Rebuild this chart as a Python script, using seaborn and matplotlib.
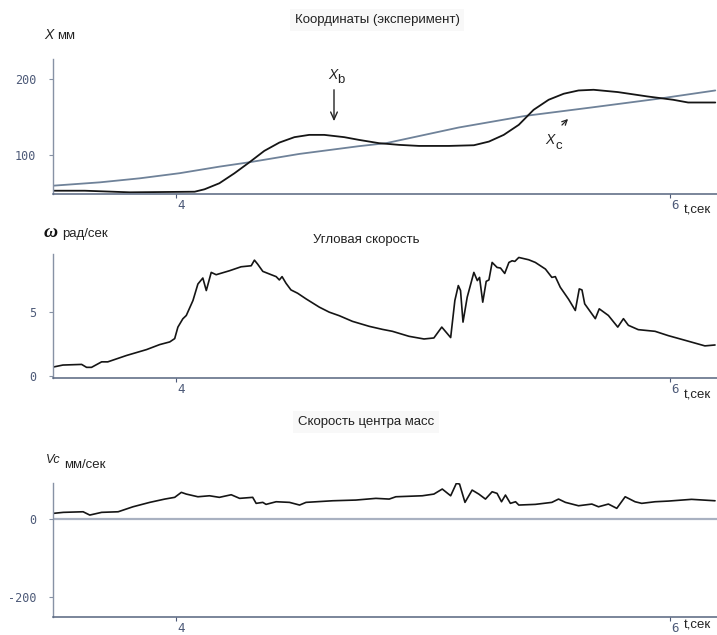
import numpy as np
import pandas as pd
import matplotlib
matplotlib.use("Agg")
import matplotlib.pyplot as plt
from matplotlib.transforms import ScaledTranslation
import seaborn as sns

# ---- data -------------------------------------------------------------
# Coordinates, mm
t_xc = [3.500, 3.690, 3.852, 4.013, 4.174, 4.296, 4.498, 4.740, 4.849,
        5.144, 5.415, 5.682, 5.952, 6.183]
x_c = [59.6, 64.0, 69.3, 76.0, 84.6, 90.4, 101.3, 111.5, 115.4,
       136.0, 151.3, 162.3, 173.7, 184.6]

t_xb = [3.500, 3.629, 3.811, 4.074, 4.114, 4.174, 4.235, 4.296, 4.356,
        4.417, 4.478, 4.538, 4.599, 4.680, 4.740, 4.821, 4.902, 4.983,
        5.104, 5.205, 5.266, 5.326, 5.387, 5.447, 5.508, 5.569, 5.629,
        5.690, 5.788, 5.909, 6.012, 6.073, 6.183]
x_b = [53.0, 53.0, 50.9, 51.7, 54.9, 62.8, 75.9, 90.4, 105.3,
       116.2, 123.3, 126.3, 126.3, 123.3, 119.7, 115.4, 113.2, 111.8,
       111.8, 112.7, 117.5, 126.3, 139.5, 159.2, 172.4, 180.3, 184.6,
       185.5, 182.5, 176.7, 172.4, 168.8, 168.8]

# Angular velocity, rad/s
t_w = [3.500, 3.540, 3.616, 3.636, 3.656, 3.697, 3.722, 3.798, 3.879,
       3.932, 3.973, 3.993, 4.006, 4.026, 4.040, 4.067, 4.087, 4.107,
       4.121, 4.141, 4.161, 4.215, 4.262, 4.303, 4.316, 4.329, 4.350,
       4.384, 4.404, 4.417, 4.428, 4.444, 4.464, 4.491, 4.525, 4.579,
       4.619, 4.660, 4.713, 4.781, 4.835, 4.875, 4.942, 5.003, 5.043,
       5.075, 5.111, 5.128, 5.142, 5.151, 5.161, 5.178, 5.205, 5.219,
       5.228, 5.241, 5.255, 5.266, 5.279, 5.299, 5.313, 5.330, 5.347,
       5.360, 5.371, 5.387, 5.427, 5.454, 5.495, 5.521, 5.535, 5.555,
       5.589, 5.616, 5.632, 5.643, 5.654, 5.697, 5.713, 5.750, 5.788,
       5.811, 5.831, 5.871, 5.939, 5.993, 6.060, 6.141, 6.182]
omega = [0.70, 0.86, 0.91, 0.68, 0.68, 1.11, 1.11, 1.61, 2.07,
         2.46, 2.67, 2.93, 3.83, 4.48, 4.74, 5.91, 7.20, 7.67,
         6.69, 8.11, 7.93, 8.24, 8.55, 8.63, 9.07, 8.76, 8.19,
         7.93, 7.78, 7.52, 7.78, 7.26, 6.74, 6.48, 6.04, 5.39,
         5.00, 4.72, 4.28, 3.89, 3.65, 3.50, 3.11, 2.90, 2.98,
         3.83, 3.01, 5.91, 7.08, 6.69, 4.22, 6.17, 8.11, 7.47,
         7.72, 5.78, 7.41, 7.52, 8.89, 8.50, 8.45, 8.03, 8.89,
         9.02, 8.97, 9.28, 9.10, 8.89, 8.37, 7.72, 7.78, 6.95,
         6.00, 5.13, 6.82, 6.74, 5.65, 4.49, 5.26, 4.74, 3.83,
         4.49, 3.97, 3.63, 3.50, 3.16, 2.80, 2.36, 2.43]

# Centre-of-mass velocity, mm/s
t_v = [3.501, 3.542, 3.622, 3.649, 3.697, 3.764, 3.824, 3.892, 3.953,
       3.993, 4.020, 4.040, 4.087, 4.134, 4.174, 4.222, 4.256, 4.309,
       4.323, 4.350, 4.363, 4.404, 4.458, 4.499, 4.525, 4.633, 4.727,
       4.808, 4.862, 4.889, 4.996, 5.043, 5.077, 5.111, 5.134, 5.147,
       5.169, 5.198, 5.225, 5.252, 5.279, 5.299, 5.317, 5.333, 5.353,
       5.374, 5.387, 5.454, 5.521, 5.548, 5.576, 5.629, 5.683, 5.710,
       5.750, 5.784, 5.818, 5.858, 5.885, 5.939, 5.993, 6.087, 6.182]
v_c = [13.7, 16.3, 17.8, 9.4, 16.3, 17.8, 30.5, 41.7, 50.1,
       54.5, 67.2, 62.8, 56.0, 58.5, 54.5, 61.1, 51.9, 54.5,
       39.2, 41.7, 36.6, 43.3, 41.7, 34.9, 41.7, 45.8, 47.6,
       51.9, 50.1, 56.0, 58.5, 62.8, 75.6, 58.5, 90.0, 88.3,
       41.7, 73.0, 62.8, 50.1, 68.7, 64.6, 43.3, 60.3, 39.2,
       43.3, 34.9, 36.6, 41.7, 50.1, 41.7, 33.1, 37.4, 30.5,
       37.4, 26.5, 56.0, 43.3, 39.2, 43.3, 45.0, 49.4, 45.8]

x_ticks = [4, 6]
x_tick_labels = ["4", "6"]
coord_ticks = [100, 200]
omega_ticks = [0, 5]
vel_ticks = [-200, 0]

# ---- style ------------------------------------------------------------
sns.set_theme(style="white")
plt.rcParams["font.family"] = ["Liberation Sans", "DejaVu Sans"]

LINE = "#151515"
XC_COL = "#6f8299"
TICK_COL = "#4d5a78"
LEFT_SPINE = "#8792a5"
BOTTOM_SPINE = "#56657f"
ZERO_COL = "#a9b1c1"

W, H = 717, 635
fig = plt.figure(figsize=(W / 100, H / 100), dpi=100)
fig.patch.set_facecolor("white")


def px(x, y):
    """Pixel position from the top-left corner -> figure fraction."""
    return x / W, 1 - y / H


def axes_at(left, top, right, bottom):
    return fig.add_axes([left / W, 1 - bottom / H, (right - left) / W, (bottom - top) / H])


ax1 = axes_at(53, 59, 717, 194.3)
ax2 = axes_at(53, 254, 717, 377.7)
ax3 = axes_at(53, 483, 717, 617)

XLIM = (3.5, 6.19)

for ax in (ax1, ax2, ax3):
    ax.set_facecolor("white")
    ax.set_xlim(*XLIM)
    for s in ("top", "right"):
        ax.spines[s].set_visible(False)
    ax.spines["left"].set_color(LEFT_SPINE)
    ax.spines["left"].set_linewidth(1.0)
    ax.spines["bottom"].set_color(BOTTOM_SPINE)
    ax.spines["bottom"].set_linewidth(1.1)
    ax.set_xticks(x_ticks)
    ax.set_xticklabels(x_tick_labels, fontfamily="DejaVu Sans Mono",
                       fontsize=9, color=TICK_COL)
    ax.tick_params(axis="x", direction="out", length=3, width=0.8,
                   color=TICK_COL, pad=0.5, bottom=True)
    ax.tick_params(axis="y", direction="out", length=3, width=0.8,
                   color=LEFT_SPINE, pad=9, left=True, labelcolor=TICK_COL)
    for lbl in ax.get_xticklabels():
        lbl.set_horizontalalignment("left")
        lbl.set_transform(lbl.get_transform() +
                          ScaledTranslation(0.5 / 72, 0, fig.dpi_scale_trans))
    ax.set_xlabel("")
    ax.set_ylabel("")
    ax.grid(False)

# ---- panel 1: coordinates --------------------------------------------
sns.lineplot(x=t_xc, y=x_c, ax=ax1, color=XC_COL, linewidth=1.3, estimator=None)
sns.lineplot(x=t_xb, y=x_b, ax=ax1, color=LINE, linewidth=1.3, estimator=None)
ax1.set_ylim(48.3, 225.9)
ax1.set_yticks(coord_ticks)
ax1.set_yticklabels([str(v) for v in coord_ticks])

# ---- panel 2: angular velocity ---------------------------------------
sns.lineplot(x=t_w, y=omega, ax=ax2, color=LINE, linewidth=1.2, estimator=None)
ax2.set_ylim(-0.13, 9.55)
ax2.set_yticks(omega_ticks)
ax2.set_yticklabels([str(v) for v in omega_ticks])

# ---- panel 3: centre-of-mass velocity --------------------------------
ax3.axhline(0, color=ZERO_COL, linewidth=1.6, zorder=1)
sns.lineplot(x=t_v, y=v_c, ax=ax3, color=LINE, linewidth=1.2, estimator=None)
ax3.set_ylim(-250, 91)
ax3.set_yticks(vel_ticks)
ax3.set_yticklabels([str(v) for v in vel_ticks])

for ax in (ax1, ax2, ax3):
    for lbl in ax.get_yticklabels():
        lbl.set_fontfamily("DejaVu Sans Mono")
        lbl.set_fontsize(8.5)
        lbl.set_color(TICK_COL)

# ---- titles and axis captions ----------------------------------------
title_box = dict(boxstyle="square,pad=0.35", facecolor="#f8f8f8", edgecolor="none")
fig.text(*px(377, 20), "Координаты (эксперимент)", ha="center", va="center",
         fontsize=9.5, color="#222222", bbox=title_box)
fig.text(*px(366, 240), "Угловая скорость", ha="center", va="center",
         fontsize=9.5, color="#222222")
fig.text(*px(366, 422), "Скорость центра масс", ha="center", va="center",
         fontsize=9.5, color="#222222", bbox=title_box)

# X мм
fig.text(*px(44, 35), "X", ha="left", va="center", fontsize=10,
         fontstyle="italic", color="#222222")
fig.text(*px(57, 36), "мм", ha="left", va="center", fontsize=9.5, color="#222222")
# ω рад/сек
fig.text(*px(44, 233), "ω", ha="left", va="center", fontsize=14,
         fontstyle="italic", fontweight="bold", family="Liberation Serif",
         color="#111111")
fig.text(*px(62, 234), "рад/сек", ha="left", va="center", fontsize=9.5,
         color="#222222")
# Vc мм/сек
fig.text(*px(46, 460), "Vc", ha="left", va="center", fontsize=9,
         fontstyle="italic", color="#222222")
fig.text(*px(64, 465), "мм/сек", ha="left", va="center", fontsize=9.5,
         color="#222222")

# time axis captions
for y in (210, 395, 626):
    fig.text(*px(684, y), "t,сек", ha="left", va="center", fontsize=9.5,
             color="#222222")

# ---- curve annotations -----------------------------------------------
fig.text(*px(328, 75), "X", ha="left", va="center", fontsize=10,
         fontstyle="italic", color="#222222")
fig.text(*px(337, 80), "b", ha="left", va="center", fontsize=9.5, color="#222222")
ax1.annotate("", xy=px(334, 124), xytext=px(334, 87),
             xycoords="figure fraction", textcoords="figure fraction",
             arrowprops=dict(arrowstyle="->,head_length=0.45,head_width=0.2",
                             color="#222222", lw=1.0))

fig.text(*px(545, 140), "X", ha="left", va="center", fontsize=10,
         fontstyle="italic", color="#222222")
fig.text(*px(556, 146), "c", ha="left", va="center", fontsize=9.5, color="#222222")
ax1.annotate("", xy=px(570, 117), xytext=px(560, 127),
             xycoords="figure fraction", textcoords="figure fraction",
             arrowprops=dict(arrowstyle="->,head_length=0.3,head_width=0.15",
                             color="#222222", lw=0.9))

fig.savefig("out.png", dpi=100, facecolor="white")
